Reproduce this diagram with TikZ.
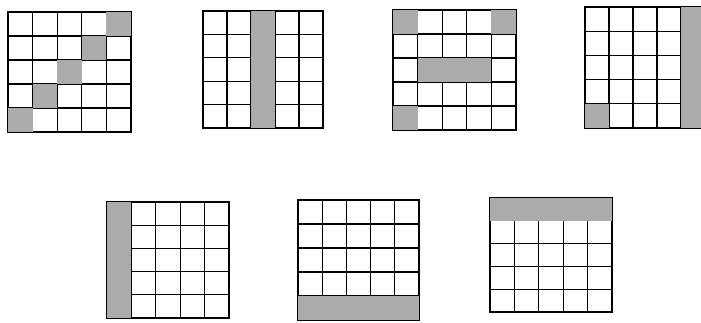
\documentclass[tikz,border=0pt]{standalone}
\tikzset{
  gridline/.style={draw=black, line width=1.1pt},
  shadecell/.style={fill=black!33}
}
% #1 x0, #2 y0, #3 x1, #4 y1 (pixels), #5 list of shaded rectangles c1/r1/c2/r2 (cell units, from top-left)
\newcommand\boardgrid[5]{%
  \pgfmathsetmacro\cw{(#3-#1)/5}%
  \pgfmathsetmacro\ch{(#4-#2)/5}%
  \begin{scope}[shift={(#1,#2)}, x=\cw pt, y=-\ch pt]
    \draw[gridline] (0,0) rectangle (5,5);
    \foreach \i in {1,...,4} {
      \draw[gridline] (\i,0) -- (\i,5);
      \draw[gridline] (0,\i) -- (5,\i);
    }
    \foreach \a/\b/\c/\d in {#5} {
      \fill[shadecell] (\a,\b) rectangle (\c,\d);
    }
  \end{scope}%
}
\begin{document}
\begin{tikzpicture}[x=1pt,y=-1pt]
  \useasboundingbox (0,0) rectangle (701,322);
  \clip (0,0) rectangle (701,322);
  % top row
  \boardgrid{8}{12}{131}{132}{4/0/5/1, 3/1/4/2, 2/2/3/3, 1/3/2/4, 0/4/1/5}
  \boardgrid{203}{11}{323}{128}{2/0/3/5}
  \boardgrid{393}{10}{516}{130}{0/0/1/1, 4/0/5/1, 1/2/4/3, 0/4/1/5}
  \boardgrid{585}{7}{705}{128}{4/0/5/5, 0/4/1/5}
  % bottom row
  \boardgrid{107}{202}{229}{318}{0/0/1/5}
  \boardgrid{298}{200}{419}{320}{0/4/5/5}
  \boardgrid{490}{198}{612}{312}{0/0/5/1}
\end{tikzpicture}
\end{document}
